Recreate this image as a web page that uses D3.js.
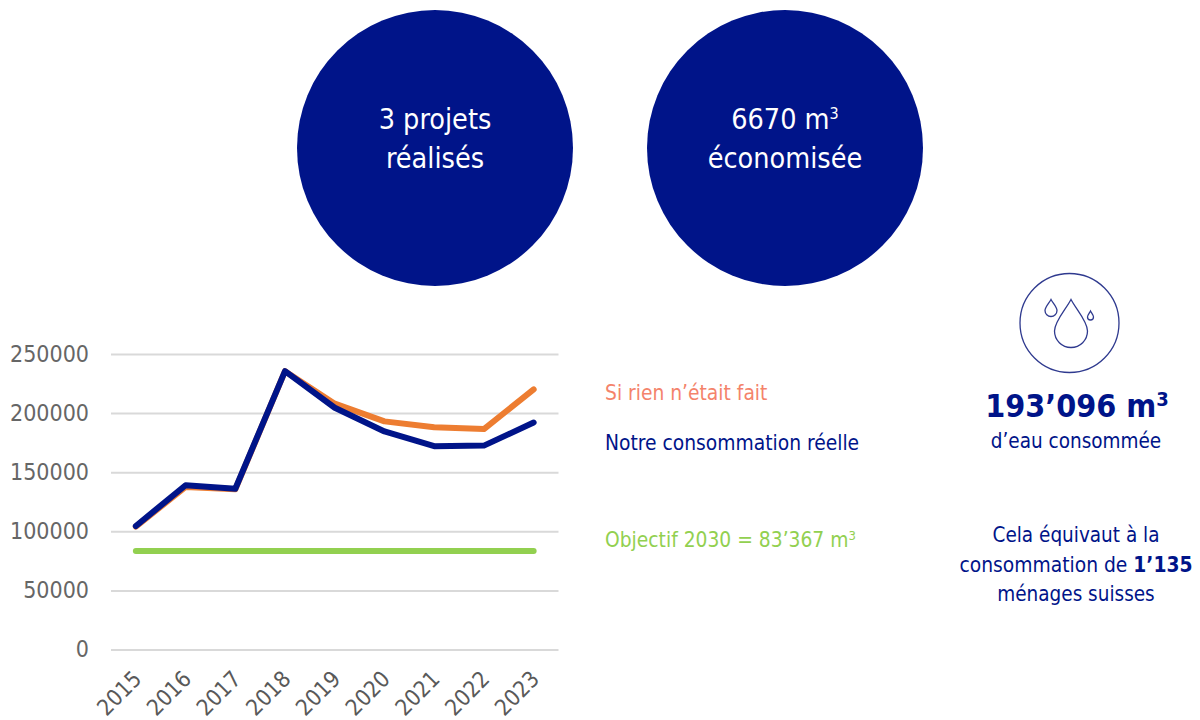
<!DOCTYPE html>
<html>
<head>
<meta charset="utf-8">
<script src="https://cdn.jsdelivr.net/npm/d3@7"></script>
<style>
  body { margin: 0; background: #fff; }
  svg { display: block; }
  text { font-family: "DejaVu Sans Condensed", "DejaVu Sans", sans-serif; }
</style>
</head>
<body>
<div id="chart"></div>
<script>
const years = [2015, 2016, 2017, 2018, 2019, 2020, 2021, 2022, 2023];
const yTicks = [0, 50000, 100000, 150000, 200000, 250000];
const siRien = [104000, 137500, 135500, 235500, 208000, 193000, 188000, 186500, 220000];
const reelle = [104500, 139000, 136000, 235500, 204500, 184500, 172000, 172500, 192000];
const objectif = [83367, 83367, 83367, 83367, 83367, 83367, 83367, 83367, 83367];

const navy = "#001489";

let svg = d3.select("#chart").append("svg")
    .attr("width", 1200)
    .attr("height", 720);

// Scales
let x = d3.scaleBand().domain(years).range([111, 558.5]);
let y = d3.scaleLinear().domain([0, 250000]).range([649.5, 354]);

// Y axis, gridlines come from the ticks
let yAxis = d3.axisLeft(y)
    .tickValues(yTicks)
    .tickSize(0)
    .tickPadding(22)
    .tickFormat(d => d);
let yG = svg.append("g").attr("transform", "translate(111,0)").call(yAxis);
yG.select(".domain").remove();
yG.selectAll("text").attr("fill", "#666666").style("font-size", "23px");
yG.selectAll(".tick").append("line")
    .attr("x1", 0)
    .attr("x2", 447.5)
    .attr("stroke", "#d9d9d9")
    .attr("stroke-width", 2);

// X axis with rotated labels
let xAxis = d3.axisBottom(x).tickSize(0).tickPadding(0);
let xG = svg.append("g").attr("transform", "translate(0,649.5)").call(xAxis);
xG.select(".domain").remove();
xG.selectAll("text")
    .attr("fill", "#595959")
    .style("font-size", "22.5px")
    .attr("text-anchor", "end")
    .attr("dy", 0)
    .attr("transform", "translate(7,31) rotate(-45)");

// Lines
let line = d3.line()
    .x((d, i) => x(years[i]) + x.bandwidth() / 2)
    .y(d => y(d));

[[objectif, "#92d050", 6], [siRien, "#ed7d31", 6], [reelle, navy, 6]].forEach(s => {
  svg.append("path")
      .datum(s[0])
      .attr("fill", "none")
      .attr("stroke", s[1])
      .attr("stroke-width", s[2])
      .attr("stroke-linecap", "round")
      .attr("stroke-linejoin", "round")
      .attr("d", line);
});

// Big circles
function bubble(cx, first, second, sup) {
  svg.append("circle")
      .attr("cx", cx).attr("cy", 148).attr("r", 138)
      .attr("fill", navy);
  let t = svg.append("text")
      .attr("x", cx).attr("y", 129)
      .attr("text-anchor", "middle")
      .attr("fill", "#fff")
      .style("font-size", "28.5px")
      .text(first);
  if (sup) {
    t.append("tspan").attr("dy", -10).style("font-size", "16px").text(sup);
  }
  svg.append("text")
      .attr("x", cx).attr("y", 168)
      .attr("text-anchor", "middle")
      .attr("fill", "#fff")
      .style("font-size", "28.5px")
      .text(second);
}
bubble(435, "3 projets", "réalisés");
bubble(785, "6670 m", "économisée", "3");

// Legend texts
function label(px, py, txt, color, size, sup) {
  let t = svg.append("text")
      .attr("x", px).attr("y", py)
      .attr("fill", color)
      .style("font-size", size + "px")
      .text(txt);
  if (sup) {
    t.append("tspan").attr("dy", -7).style("font-size", "13px").text(sup);
  }
  return t;
}
label(605, 399.5, "Si rien n’était fait", "#f4836b", 20.8);
label(605, 449.5, "Notre consommation réelle", navy, 20.8);
label(605, 547, "Objectif 2030 = 83’367 m", "#92d050", 20.8, "3");

// Water drop icon
let icon = svg.append("g")
    .attr("fill", "none")
    .attr("stroke", "#2f3a8f")
    .attr("stroke-width", 1.3);
icon.append("circle").attr("cx", 1069.5).attr("cy", 323).attr("r", 49.5);
function drop(cx, top, w, h) {
  let r = w / 2, cy = top + h - r;
  icon.append("path").attr("d",
    `M${cx},${top} C${cx + r * 0.3},${top + h * 0.2} ${cx + r},${cy - r * 0.6} ${cx + r},${cy}` +
    ` A${r},${r} 0 1 1 ${cx - r},${cy}` +
    ` C${cx - r},${cy - r * 0.6} ${cx - r * 0.3},${top + h * 0.2} ${cx},${top}Z`);
}
drop(1071, 299.5, 33, 48);
drop(1051, 299.5, 12, 17);
drop(1090.5, 311, 6, 9);

// Right hand figures
function centered(py, parts, size) {
  let t = svg.append("text")
      .attr("x", 1076).attr("y", py)
      .attr("text-anchor", "middle")
      .attr("fill", navy)
      .style("font-size", size + "px");
  parts.forEach(p => {
    t.append("tspan").style("font-weight", p[1] ? "bold" : "normal").text(p[0]);
  });
  return t;
}
let big = svg.append("text")
    .attr("x", 1077).attr("y", 417)
    .attr("text-anchor", "middle")
    .attr("fill", navy)
    .style("font-size", "32px")
    .style("font-weight", "bold")
    .text("193’096 m");
big.append("tspan").attr("dy", -11).style("font-size", "20px").text("3");

centered(448, [["d’eau consommée"]], 20.5);
centered(542, [["Cela équivaut à la"]], 20.5);
centered(572, [["consommation de "], ["1’135", true]], 20.8);
centered(601, [["ménages suisses"]], 20.5);
</script>
</body>
</html>
